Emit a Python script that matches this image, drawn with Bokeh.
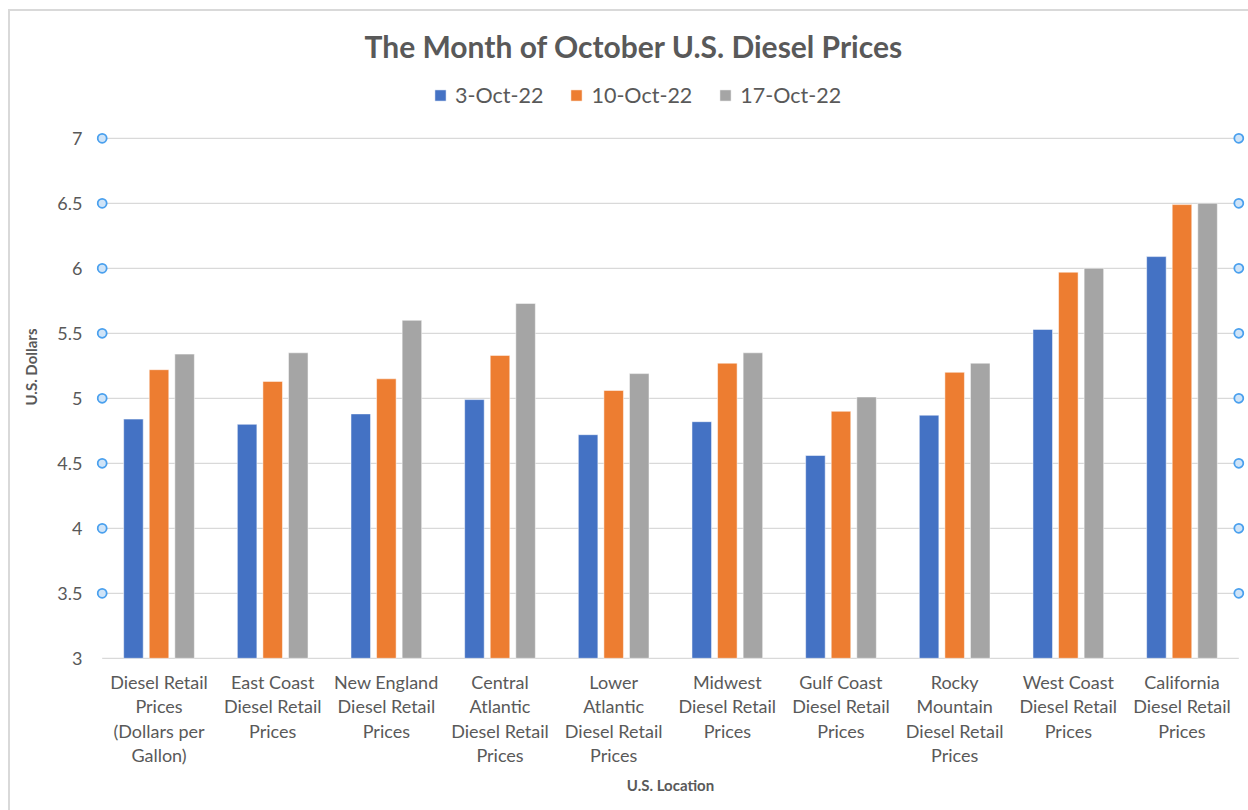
from bokeh.plotting import figure
from bokeh.models import (FactorRange, Range1d, Legend, LegendItem, ColumnDataSource,
                          FixedTicker, NumeralTickFormatter, Title)
from bokeh.transform import dodge
from bokeh.embed import file_html
from bokeh.resources import INLINE

# category tick labels (line breaks as in the original chart)
categories = [
    "Diesel Retail\nPrices\n(Dollars per\nGallon)",
    "East Coast\nDiesel Retail\nPrices",
    "New England\nDiesel Retail\nPrices",
    "Central\nAtlantic\nDiesel Retail\nPrices",
    "Lower\nAtlantic\nDiesel Retail\nPrices",
    "Midwest\nDiesel Retail\nPrices",
    "Gulf Coast\nDiesel Retail\nPrices",
    "Rocky\nMountain\nDiesel Retail\nPrices",
    "West Coast\nDiesel Retail\nPrices",
    "California\nDiesel Retail\nPrices",
]
series_names = ["3-Oct-22", "10-Oct-22", "17-Oct-22"]
oct3 = [4.84, 4.80, 4.88, 4.99, 4.72, 4.82, 4.56, 4.87, 5.53, 6.09]
oct10 = [5.22, 5.13, 5.15, 5.33, 5.06, 5.27, 4.90, 5.20, 5.97, 6.49]
oct17 = [5.34, 5.35, 5.60, 5.73, 5.19, 5.35, 5.01, 5.27, 6.00, 6.50]
y_ticks = [3, 3.5, 4, 4.5, 5, 5.5, 6, 6.5, 7]
colors = ["#4472C4", "#ED7D31", "#A5A5A5"]

FONT = "Lato"
TXT = "#595959"

source = ColumnDataSource(dict(cat=categories, oct3=oct3, oct10=oct10, oct17=oct17))

p = figure(
    x_range=FactorRange(factors=categories, range_padding=0.01),
    y_range=Range1d(2.96, 7.5215),
    width=1248, height=810,
    output_backend="svg", toolbar_location=None,
    min_border_left=96, min_border_right=4, min_border_top=70, min_border_bottom=147,
    border_fill_color=None, outline_line_color=None,
)
p.styles = {
    "background-image": "linear-gradient(#d9d9d9,#d9d9d9), linear-gradient(#d9d9d9,#d9d9d9)",
    "background-size": "2px 100%, 100% 2px",
    "background-position": "8px 9px, 8px 9px",
    "background-repeat": "no-repeat",
}

p.title = Title(text="The Month of October U.S. Diesel Prices", align="left",
                text_font=FONT, text_font_size="30px", text_font_style="bold",
                text_color=TXT, offset=268, standoff=13)

p.xgrid.visible = False
p.ygrid.visible = False

# gridlines
n = len(categories)
p.segment(x0=[0] * len(y_ticks), x1=[n] * len(y_ticks), y0=y_ticks, y1=y_ticks,
          line_color="#d9d9d9", line_width=1.3)

fields = ["oct3", "oct10", "oct17"]
offsets = [-0.225, 0.0, 0.225]
renderers = []
for f, off, c in zip(fields, offsets, colors):
    r = p.vbar(x=dodge("cat", off, range=p.x_range), top=f, bottom=3, width=0.172,
               source=source, fill_color=c, line_color="white", line_alpha=0.5, line_width=1)
    renderers.append(r)

# decorative handle markers on plot-area edges
mk = y_ticks[1:]
p.scatter(x=[0] * len(mk) + [n] * len(mk), y=mk + mk, size=9, marker="circle",
          line_color="#4aa0ee", fill_color="#cfe4f8", line_width=1.8)

legend = Legend(items=[LegendItem(label=nm, renderers=[r]) for nm, r in zip(series_names, renderers)],
                orientation="horizontal", location=(337, 555),
                label_text_font=FONT, label_text_font_size="21.5px", label_text_color=TXT,
                glyph_width=14, glyph_height=14, spacing=26, label_standoff=8,
                border_line_color=None, background_fill_alpha=0, padding=0, margin=0)
p.add_layout(legend, "center")

xa = p.xaxis[0]
xa.major_label_text_font = FONT
xa.major_label_text_font_size = "18px"
xa.major_label_text_color = TXT
xa.major_label_text_line_height = 1.12
xa.major_label_standoff = 1
xa.major_tick_line_color = None
xa.axis_line_color = None
xa.axis_label = "U.S. Location"
xa.axis_label_text_font = FONT
xa.axis_label_text_font_size = "15px"
xa.axis_label_text_font_style = "bold"
xa.axis_label_text_color = TXT
xa.axis_label_standoff = 7

ya = p.yaxis[0]
ya.ticker = FixedTicker(ticks=y_ticks)
ya.formatter = NumeralTickFormatter(format="0.[0]")
ya.major_label_text_font = FONT
ya.major_label_text_font_size = "18px"
ya.major_label_text_color = TXT
ya.major_label_standoff = 8
ya.major_tick_line_color = None
ya.minor_tick_line_color = None
ya.axis_line_color = None
ya.axis_label = "U.S. Dollars"
ya.axis_label_text_font = FONT
ya.axis_label_text_font_size = "15px"
ya.axis_label_text_font_style = "bold"
ya.axis_label_text_color = TXT
ya.axis_label_standoff = 14

open("out.html", "w").write(file_html(p, INLINE))
